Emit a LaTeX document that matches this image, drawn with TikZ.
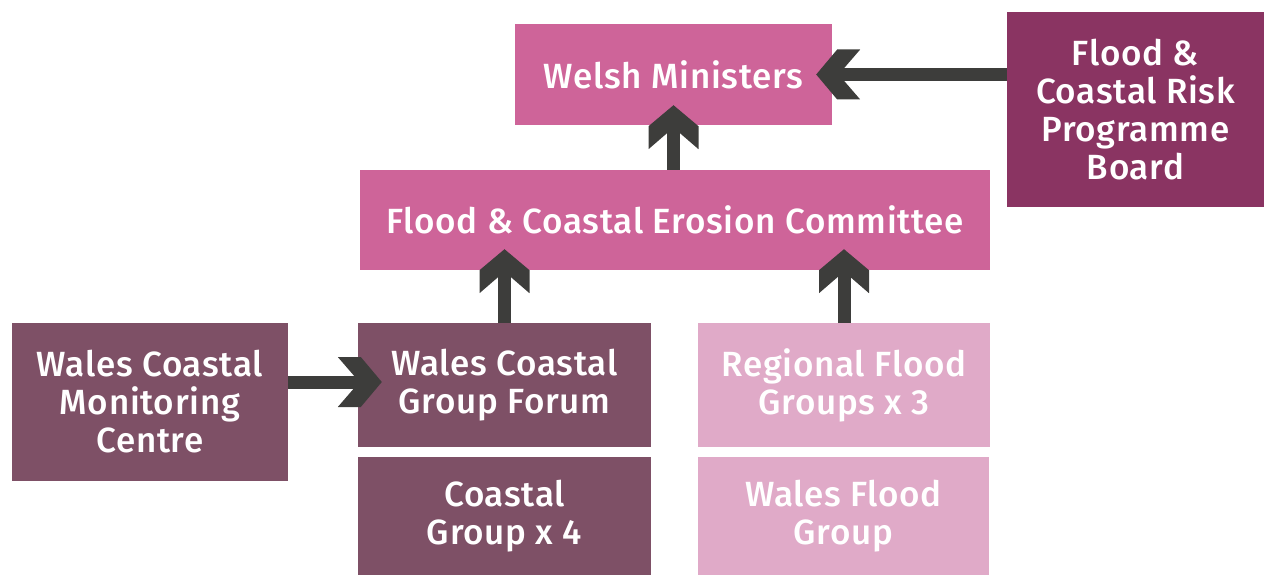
\documentclass[tikz,border=0pt]{standalone}
\usepackage{fontspec}
\setmainfont{Fira Sans}[UprightFont=* Medium, LetterSpace=2]
\usetikzlibrary{arrows.meta}

% Chevron-shaped arrow head, filled in the line colour
\pgfdeclarearrow{
  name=Chevron,
  setup code={
    \pgfarrowssettipend{0pt}
    \pgfarrowssetlineend{-18pt}
    \pgfarrowssetbackend{-44pt}
    \pgfarrowssetvisualbackend{-18pt}
    \pgfarrowsupperhullpoint{-44pt}{25pt}
    \pgfarrowsupperhullpoint{0pt}{0pt}
  },
  drawing code={
    \pgfpathmoveto{\pgfpoint{0pt}{0pt}}
    \pgfpathlineto{\pgfpoint{-21pt}{25pt}}
    \pgfpathlineto{\pgfpoint{-44pt}{25pt}}
    \pgfpathlineto{\pgfpoint{-28pt}{6.5pt}}
    \pgfpathlineto{\pgfpoint{-28pt}{-6.5pt}}
    \pgfpathlineto{\pgfpoint{-44pt}{-25pt}}
    \pgfpathlineto{\pgfpoint{-21pt}{-25pt}}
    \pgfpathclose
    \pgfusepathqfill
  }
}

\definecolor{pinkmid}{HTML}{CE6499}
\definecolor{plum}{HTML}{8A3462}
\definecolor{mauve}{HTML}{7E5066}
\definecolor{pinklight}{HTML}{E0AAC8}
\definecolor{arrowgrey}{HTML}{3D3D3B}

\tikzset{
  box/.style={rectangle, inner sep=0pt, text=white, align=center,
    font=\fontsize{35}{38}\selectfont},
  flow/.style={draw=arrowgrey, fill=arrowgrey, line width=13pt, -{Chevron}}
}

\begin{document}
\begin{tikzpicture}[x=1pt, y=-1pt]
\useasboundingbox (0,0) rectangle (1264,575);

\node[box, fill=pinkmid, minimum width=317pt, minimum height=101pt] (wm) at (673.5,74.5) {Welsh Ministers};
\node[box, fill=plum, minimum width=257pt, minimum height=195pt] (board) at (1135.5,109.5) {Flood \&\\Coastal Risk\\Programme\\Board};
\node[box, fill=pinkmid, minimum width=630pt, minimum height=100pt] (fcec) at (675,220) {Flood \& Coastal Erosion Committee};
\node[box, fill=mauve, minimum width=276pt, minimum height=158pt] (wcmc) at (150,402) {Wales Coastal\\Monitoring\\Centre};
\node[box, fill=mauve, minimum width=293pt, minimum height=124pt] (wcgf) at (504.5,385) {Wales Coastal\\Group Forum};
\node[box, fill=mauve, minimum width=293pt, minimum height=118pt] (cg) at (504.5,516) {Coastal\\Group x 4};
\node[box, fill=pinklight, minimum width=292pt, minimum height=124pt] (rfg) at (844,385) {Regional Flood\\Groups x 3};
\node[box, fill=pinklight, minimum width=291pt, minimum height=118pt] (wfg) at (843.5,516) {Wales Flood\\Group};

\draw[flow, shorten >=-16pt] (wm.east -| board.west) -- (wm.east);
\draw[flow, shorten >=-20pt] (fcec.north -| wm) -- (wm.south);
\draw[flow, shorten >=-21pt] (wcgf.north) -- (wcgf.north |- fcec.south);
\draw[flow, shorten >=-21pt] (rfg.north) -- (rfg.north |- fcec.south);
\draw[flow, shorten >=-24pt] ([yshift=3pt]wcmc.east |- wcgf.west) -- ([yshift=3pt]wcgf.west);
\end{tikzpicture}
\end{document}
